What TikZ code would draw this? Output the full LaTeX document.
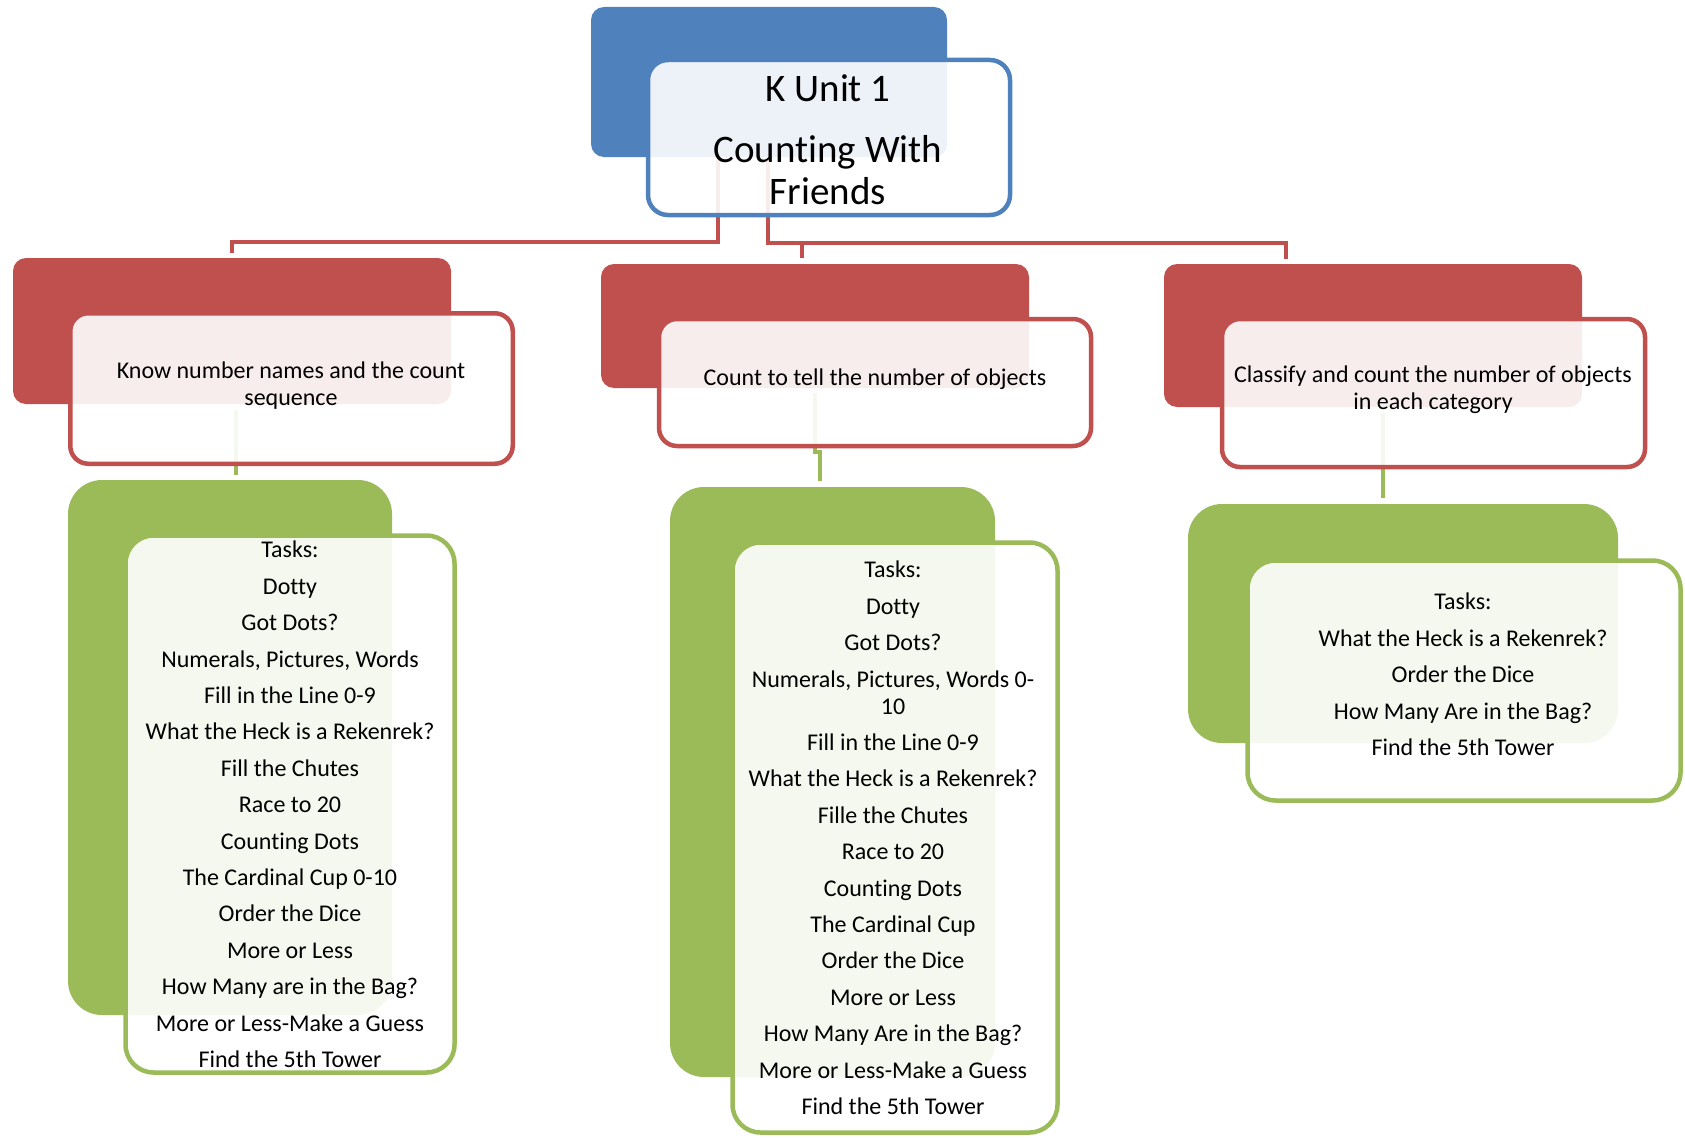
\documentclass[tikz,border=0pt]{standalone}
\usepackage{fontspec}
\setmainfont{Carlito}[Ligatures=NoCommon]
\definecolor{cblue}{HTML}{4F81BD}
\definecolor{cred}{HTML}{C0504D}
\definecolor{cgreen}{HTML}{9BBB59}
\tikzset{
  backbox/.style={rectangle, draw=none, fill=#1, inner sep=0pt},
  frontbox/.style={rectangle, draw=#1, fill=white, fill opacity=0.9, line width=4.5pt, inner sep=0pt},
  conn/.style={draw=#1, line width=4.5pt},
  txt/.style={align=center, inner sep=0pt, anchor=north, text=black},
  ltxt/.style={txt, font=\fontsize{24}{27}\selectfont},
  ttxt/.style={txt, font=\fontsize{24}{27}\selectfont},
}
\newcommand{\pg}{\\[9.4pt]}
\begin{document}
\begin{tikzpicture}[x=1pt, y=-1pt]
\useasboundingbox (0,0) rectangle (1685,1137);
% back boxes
\node[backbox=cblue, rounded corners=13pt, minimum width=356pt, minimum height=150pt] (b0) at (769,82) {};
\node[backbox=cred, rounded corners=13pt, minimum width=438pt, minimum height=146pt] (bA) at (232,331) {};
\node[backbox=cred, rounded corners=13pt, minimum width=428pt, minimum height=124pt] (bB) at (815,326) {};
\node[backbox=cred, rounded corners=13pt, minimum width=418pt, minimum height=143pt] (bC) at (1373,335.5) {};
\node[backbox=cgreen, rounded corners=34pt, minimum width=324pt, minimum height=535pt] (bD) at (230,747.5) {};
\node[backbox=cgreen, rounded corners=34pt, minimum width=325pt, minimum height=590pt] (bE) at (832.5,782) {};
\node[backbox=cgreen, rounded corners=34pt, minimum width=430pt, minimum height=239pt] (bF) at (1403,623.5) {};
% connector end points
\coordinate (sL) at (718,160);
\coordinate (sM) at (768,160);
\coordinate (eA) at (232,253);
\coordinate (eB) at (802,258);
\coordinate (eC) at (1286,259);
\coordinate (gA1) at (236,410);
\coordinate (gA2) at (236,475);
\coordinate (gB1) at (815,393);
\coordinate (gB2) at (820,452);
\coordinate (gB3) at (820,481);
\coordinate (gC1) at (1383,413);
\coordinate (gC2) at (1383,498);
% connectors
\draw[conn=cred] (sL) -- ++(0,82) -| (eA);
\draw[conn=cred] (sM) -- ++(0,83) -| (eC);
\draw[conn=cred] (eB) -- ++(0,-15);
\draw[conn=cgreen] (gA1) -- (gA2);
\draw[conn=cgreen] (gB1) |- (gB2) -- (gB3);
\draw[conn=cgreen] (gC1) -- (gC2);
% front boxes
\node[frontbox=cblue, rounded corners=20pt, minimum width=362pt, minimum height=155pt] (f0) at (829,137.5) {};
\node[frontbox=cred, rounded corners=18pt, minimum width=442.5pt, minimum height=150.5pt] (fA) at (291.5,388.5) {};
\node[frontbox=cred, rounded corners=18pt, minimum width=432pt, minimum height=127pt] (fB) at (875,382.5) {};
\node[frontbox=cred, rounded corners=18pt, minimum width=423pt, minimum height=148pt] (fC) at (1433.5,393) {};
\node[frontbox=cgreen, rounded corners=28pt, minimum width=329pt, minimum height=537pt] (fD) at (290,804) {};
\node[frontbox=cgreen, rounded corners=28pt, minimum width=325pt, minimum height=590pt] (fE) at (895,837.5) {};
\node[frontbox=cgreen, rounded corners=28pt, minimum width=433pt, minimum height=240pt] (fF) at (1464,680.5) {};
% texts
\node[txt, font=\fontsize{39}{42}\selectfont] (t0) at (828,74) {K Unit 1\\[19pt]Counting With\\Friends};
\node[ltxt] (tA) at (291,361.5) {Know number names and the count\\sequence};
\node[ltxt] (tB) at (875,368.5) {Count to tell the number of objects};
\node[ltxt] (tC) at (1433,365.5) {Classify and count the number of objects\\in each category};
\node[ttxt] (tD) at (290,541) {Tasks:\pg Dotty\pg Got Dots?\pg Numerals, Pictures, Words\pg Fill in the Line 0-9\pg What the Heck is a Rekenrek?\pg Fill the Chutes\pg Race to 20\pg Counting Dots\pg The Cardinal Cup 0-10\pg Order the Dice\pg More or Less\pg How Many are in the Bag?\pg More or Less-Make a Guess\pg Find the 5th Tower};
\node[ttxt] (tE) at (893,561) {Tasks:\pg Dotty\pg Got Dots?\pg Numerals, Pictures, Words 0-\\10\pg Fill in the Line 0-9\pg What the Heck is a Rekenrek?\pg Fille the Chutes\pg Race to 20\pg Counting Dots\pg The Cardinal Cup\pg Order the Dice\pg More or Less\pg How Many Are in the Bag?\pg More or Less-Make a Guess\pg Find the 5th Tower};
\node[ttxt] (tF) at (1463,593) {Tasks:\pg What the Heck is a Rekenrek?\pg Order the Dice\pg How Many Are in the Bag?\pg Find the 5th Tower};
\end{tikzpicture}
\end{document}
